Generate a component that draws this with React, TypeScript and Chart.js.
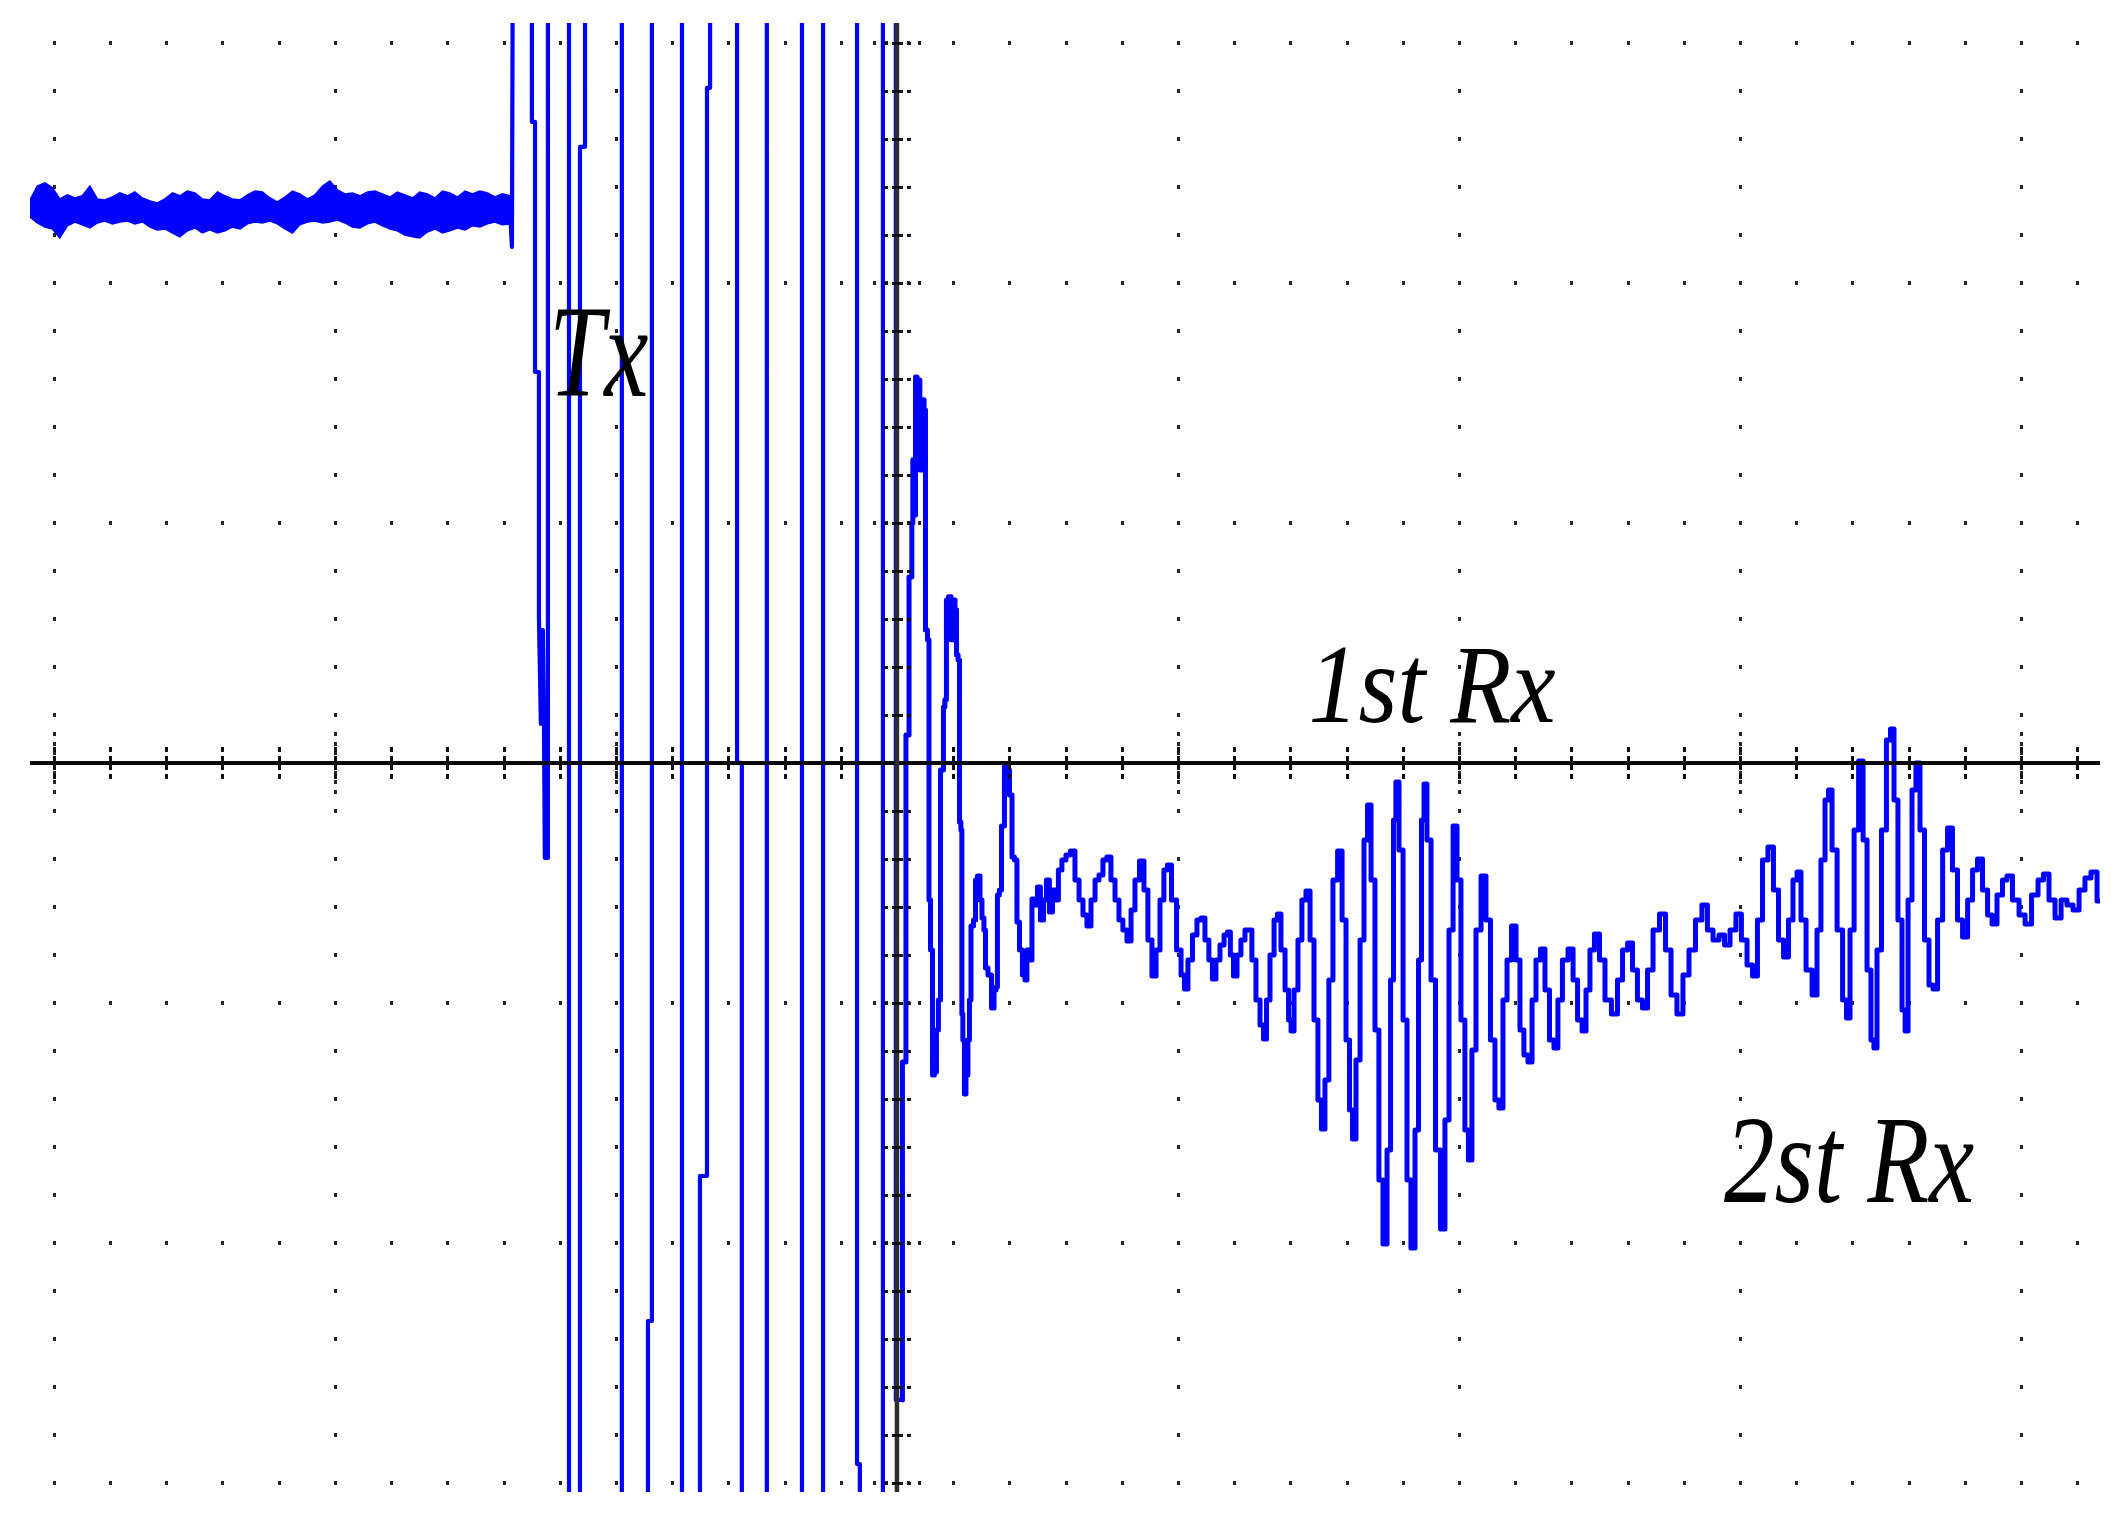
import React, { useEffect, useRef } from 'react';
import { Chart, registerables } from 'chart.js';

Chart.register(...registerables);

// Screen window, in scope divisions (x: time/div, y: volts/div)
const X_MIN = -3.085;
const X_MAX = 4.281;
const Y_MIN = -3.0375;
const Y_MAX = 3.083;

// Graticule
const xMajors = [-3, -2, -1, 0, 1, 2, 3, 4];
const yMajors = [-3, -2, -1, 0, 1, 2, 3];

// Pre-trigger noisy baseline (upper / lower envelope of the noise band)
const baseTime = [-3.085, -3.059, -3.032, -3.005, -2.979, -2.952, -2.925, -2.899, -2.872, -2.845,
  -2.819, -2.792, -2.765, -2.738, -2.712, -2.685, -2.658, -2.632, -2.605, -2.578,
  -2.552, -2.525, -2.498, -2.472, -2.445, -2.418, -2.391, -2.365, -2.338, -2.311,
  -2.285, -2.258, -2.231, -2.205, -2.178, -2.151, -2.125, -2.098, -2.071, -2.044,
  -2.018, -1.991, -1.964, -1.938, -1.911, -1.884, -1.858, -1.831, -1.804, -1.778,
  -1.751, -1.724, -1.698, -1.671, -1.644, -1.617, -1.591, -1.564, -1.537, -1.511,
  -1.484, -1.457, -1.431, -1.404, -1.377];
const baseUpper = [2.346, 2.404, 2.417, 2.396, 2.350, 2.367, 2.354, 2.363, 2.404, 2.350,
  2.346, 2.358, 2.375, 2.363, 2.379, 2.354, 2.342, 2.333, 2.350, 2.375,
  2.363, 2.383, 2.375, 2.350, 2.346, 2.379, 2.363, 2.350, 2.346, 2.367,
  2.383, 2.379, 2.354, 2.338, 2.358, 2.383, 2.371, 2.350, 2.367, 2.404,
  2.425, 2.3875, 2.371, 2.375, 2.363, 2.379, 2.383, 2.371, 2.358, 2.379,
  2.367, 2.354, 2.379, 2.371, 2.354, 2.383, 2.375, 2.358, 2.383, 2.371,
  2.383, 2.375, 2.358, 2.371, 2.363];
const baseLower = [2.275, 2.250, 2.233, 2.225, 2.1875, 2.238, 2.254, 2.242, 2.229, 2.250,
  2.258, 2.246, 2.254, 2.258, 2.246, 2.254, 2.233, 2.221, 2.225, 2.208,
  2.192, 2.217, 2.229, 2.208, 2.221, 2.208, 2.217, 2.233, 2.225, 2.246,
  2.254, 2.250, 2.258, 2.246, 2.225, 2.208, 2.242, 2.254, 2.258, 2.250,
  2.254, 2.2625, 2.250, 2.233, 2.229, 2.246, 2.254, 2.238, 2.225, 2.217,
  2.2, 2.192, 2.1875, 2.2125, 2.225, 2.208, 2.217, 2.229, 2.221, 2.238,
  2.233, 2.246, 2.254, 2.242, 2.246];

// Tx burst (clipped at the screen edges: +/-3.4)
const burstTime = [-1.377, -1.370, -1.367, -1.299, -1.299, -1.288, -1.288, -1.274, -1.274, -1.267,
  -1.260, -1.256, -1.253, -1.242, -1.242, -1.167, -1.167, -1.128, -1.128, -1.110,
  -1.110, -0.979, -0.979, -0.886, -0.886, -0.872, -0.872, -0.765, -0.765, -0.701,
  -0.701, -0.676, -0.676, -0.665, -0.665, -0.569, -0.569, -0.552, -0.552, -0.463,
  -0.463, -0.338, -0.338, -0.263, -0.263, -0.142, -0.142, -0.132, -0.132, -0.050,
  -0.050, -0.004, -0.004, 0.018];
const burstVolt = [2.304, 2.150, 3.4, 3.4, 2.671, 2.671, 1.629, 1.629, 0.608, 0.163,
  0.554, 0.163, -0.396, -0.396, 3.4, 3.4, -3.4, -3.4, 2.567, 2.567,
  3.4, 3.4, -3.4, -3.4, -2.325, -2.325, 3.4, 3.4, -3.4, -3.4,
  -1.721, -1.721, 2.813, 2.813, 3.4, 3.4, 0, 0, -3.4, -3.4,
  3.4, 3.4, -3.4, -3.4, 3.4, 3.4, -2.921, -2.921, -3.4, -3.4,
  3.4, 3.4, -2.654, -2.654];

// Ringing right after the burst
const ringTime = [0.018, 0.021, 0.032, 0.032, 0.043, 0.043, 0.053, 0.053, 0.060, 0.064,
  0.068, 0.075, 0.078, 0.085, 0.093, 0.100, 0.103, 0.114, 0.114, 0.125,
  0.128, 0.139, 0.142, 0.153, 0.157, 0.164, 0.167, 0.174, 0.178, 0.189,
  0.196, 0.203, 0.210, 0.214, 0.221, 0.224, 0.231, 0.231, 0.238, 0.242,
  0.249, 0.256, 0.260, 0.267, 0.278, 0.281, 0.292, 0.299, 0.306, 0.313,
  0.317, 0.331, 0.342, 0.349, 0.356, 0.359, 0.370, 0.374, 0.381, 0.384,
  0.395, 0.406, 0.413, 0.423, 0.431, 0.441, 0.452, 0.459, 0.466, 0.477,
  0.484];
const ringVolt = [-2.654, -1.246, -1.246, 0.117, 0.117, 0.775, 0.775, 1.0, 1.263, 1.033,
  1.608, 1.429, 1.596, 1.221, 1.513, 1.471, 0.554, 0.513, -0.571, -0.779,
  -1.3, -1.288, -1.113, -0.988, -0.029, -0.029, 0.233, 0.263, 0.679, 0.692,
  0.513, 0.679, 0.638, 0.45, 0.429, -0.246, -0.279, -1.046, -1.154, -1.379,
  -1.3, -1.154, -0.988, -0.679, -0.654, -0.488, -0.471, -0.571, -0.646, -0.696,
  -0.854, -0.883, -1.021, -0.946, -0.933, -0.55, -0.529, -0.263, -0.263, -0.008,
  -0.029, -0.133, -0.392, -0.404, -0.663, -0.779, -0.883, -0.904, -0.779, -0.821,
  -0.567];

// First received echo
const rx1Time = [0.495, 0.505, 0.516, 0.527, 0.537, 0.548, 0.559, 0.569, 0.580, 0.594,
  0.609, 0.626, 0.641, 0.655, 0.669, 0.683, 0.698, 0.712, 0.726, 0.740,
  0.754, 0.769, 0.783, 0.797, 0.811, 0.826, 0.840, 0.854, 0.872, 0.886,
  0.900, 0.915, 0.929, 0.943, 0.957, 0.968, 0.986, 1.004, 1.018, 1.028,
  1.043, 1.060, 1.075, 1.089, 1.103, 1.117, 1.128, 1.142, 1.157, 1.171,
  1.181, 1.192, 1.203, 1.217, 1.231, 1.246, 1.256, 1.270, 1.285, 1.299,
  1.310, 1.320, 1.335, 1.349, 1.359, 1.374, 1.388, 1.399, 1.406, 1.420,
  1.434, 1.448, 1.463, 1.477, 1.491, 1.505, 1.516, 1.530, 1.544, 1.559,
  1.577, 1.591, 1.605, 1.616, 1.626, 1.641, 1.655, 1.669, 1.680, 1.694,
  1.708, 1.722, 1.737, 1.751, 1.762, 1.772, 1.779, 1.794, 1.808, 1.822,
  1.836, 1.851, 1.861, 1.872, 1.879, 1.893, 1.908, 1.925, 1.943, 1.957,
  1.972, 1.986, 2.0, 2.014, 2.028, 2.039, 2.053, 2.068, 2.089, 2.103,
  2.121, 2.135, 2.149];
const rx1Volt = [-0.592, -0.517, -0.654, -0.571, -0.488, -0.621, -0.529, -0.571, -0.446, -0.404,
  -0.383, -0.367, -0.488, -0.571, -0.633, -0.679, -0.571, -0.488, -0.467, -0.404,
  -0.392, -0.488, -0.571, -0.654, -0.696, -0.742, -0.613, -0.488, -0.408, -0.529,
  -0.738, -0.888, -0.779, -0.571, -0.446, -0.425, -0.571, -0.779, -0.883, -0.942,
  -0.821, -0.717, -0.654, -0.646, -0.738, -0.821, -0.9, -0.821, -0.758, -0.717,
  -0.704, -0.8, -0.888, -0.8, -0.738, -0.696, -0.696, -0.821, -0.988, -1.092,
  -1.15, -0.988, -0.8, -0.654, -0.629, -0.779, -0.946, -1.071, -1.117, -0.946,
  -0.738, -0.571, -0.533, -0.738, -1.071, -1.404, -1.525, -1.321, -0.904, -0.488,
  -0.367, -0.654, -1.154, -1.446, -1.567, -1.238, -0.738, -0.321, -0.175, -0.488,
  -1.113, -1.738, -2.004, -1.613, -0.904, -0.238, -0.079, -0.363, -1.071, -1.738,
  -2.021, -1.529, -0.821, -0.238, -0.088, -0.321, -0.904, -1.613, -1.942, -1.488,
  -0.696, -0.263, -0.488, -1.071, -1.529, -1.654, -1.196, -0.696, -0.471, -0.654,
  -1.154, -1.404, -1.438];

// Second received echo and tail
const rx2Time = [2.164, 2.178, 2.196, 2.210, 2.224, 2.238, 2.253, 2.267, 2.281, 2.299,
  2.313, 2.331, 2.345, 2.359, 2.377, 2.399, 2.413, 2.431, 2.445, 2.459,
  2.473, 2.491, 2.509, 2.530, 2.555, 2.573, 2.591, 2.609, 2.626, 2.644,
  2.662, 2.680, 2.701, 2.726, 2.744, 2.765, 2.786, 2.808, 2.829, 2.854,
  2.875, 2.893, 2.915, 2.936, 2.954, 2.975, 2.996, 3.014, 3.036, 3.053,
  3.071, 3.089, 3.110, 3.128, 3.146, 3.164, 3.181, 3.196, 3.210, 3.224,
  3.246, 3.267, 3.281, 3.295, 3.310, 3.320, 3.335, 3.356, 3.374, 3.384,
  3.399, 3.413, 3.431, 3.445, 3.459, 3.473, 3.480, 3.495, 3.512, 3.530,
  3.541, 3.555, 3.569, 3.584, 3.591, 3.605, 3.619, 3.633, 3.648, 3.665,
  3.680, 3.694, 3.712, 3.730, 3.747, 3.765, 3.783, 3.801, 3.819, 3.836,
  3.854, 3.872, 3.890, 3.904, 3.925, 3.943, 3.957, 3.982, 4.004, 4.025,
  4.050, 4.071, 4.089, 4.110, 4.132, 4.153, 4.174, 4.196, 4.217, 4.238,
  4.260, 4.281];
const rx2Volt = [-0.988, -0.821, -0.679, -0.821, -1.113, -1.217, -1.246, -0.988, -0.821, -0.775,
  -0.946, -1.154, -1.188, -0.988, -0.821, -0.775, -0.904, -1.071, -1.117, -0.946,
  -0.779, -0.713, -0.821, -0.988, -1.046, -0.904, -0.779, -0.75, -0.863, -0.988,
  -1.021, -0.863, -0.696, -0.629, -0.779, -0.967, -1.046, -0.883, -0.779, -0.654,
  -0.592, -0.696, -0.738, -0.717, -0.758, -0.696, -0.629, -0.738, -0.842, -0.888,
  -0.654, -0.404, -0.35, -0.529, -0.738, -0.808, -0.654, -0.488, -0.454, -0.654,
  -0.863, -0.967, -0.696, -0.404, -0.154, -0.113, -0.363, -0.696, -0.988, -1.063,
  -0.696, -0.279, 0.008, -0.321, -0.863, -1.154, -1.188, -0.779, -0.279, 0.096,
  0.142, -0.154, -0.654, -1.029, -1.117, -0.571, -0.113, 0, -0.279, -0.738,
  -0.925, -0.942, -0.654, -0.363, -0.271, -0.446, -0.654, -0.725, -0.571, -0.446,
  -0.4, -0.529, -0.633, -0.671, -0.55, -0.488, -0.471, -0.571, -0.633, -0.671,
  -0.55, -0.488, -0.463, -0.571, -0.646, -0.571, -0.592, -0.613, -0.529, -0.479,
  -0.454, -0.575];

// Annotations (anchored in data units)
const labelTexts = ['Tx', '1st Rx', '2st Rx'];
const labelLeft = [-1.217, 1.477, 2.943];
const labelRight = [-0.886, 2.342, 3.833];
const labelBase = [1.529, 0.171, -1.829];
const labelSize = [132, 112, 124];

const BLUE = 'rgb(0,0,255)';

const toPts = (t: number[], v: number[]) => t.map((x, i) => ({ x, y: v[i] }));

const scopePlugin = {
  id: 'scopeGraticule',
  beforeDatasetsDraw(chart: any) {
    const { ctx, scales } = chart;
    const xs = scales.x;
    const ys = scales.y;
    ctx.save();
    ctx.fillStyle = '#262626';
    const dot = (px: number, py: number) => ctx.fillRect(Math.round(px) - 1, Math.round(py) - 2, 3, 4);
    for (const xm of xMajors) {
      if (xm === 0) continue;
      const px = xs.getPixelForValue(xm);
      for (let i = -15; i <= 15; i++) {
        if (i === 0) continue;
        dot(px, ys.getPixelForValue(i * 0.2));
      }
      for (const s of [-0.12, -0.08, -0.04, 0.04, 0.08, 0.12]) dot(px, ys.getPixelForValue(s));
    }
    for (const ym of yMajors) {
      if (ym === 0) continue;
      const py = ys.getPixelForValue(ym);
      for (let i = -15; i <= 21; i++) {
        if (i === 0) continue;
        dot(xs.getPixelForValue(i * 0.2), py);
      }
      for (const s of [-0.08, -0.04, 0.04, 0.08]) dot(xs.getPixelForValue(s), py);
    }
    ctx.restore();
  },
  afterDatasetsDraw(chart: any) {
    const { ctx, scales, chartArea } = chart;
    const xs = scales.x;
    const ys = scales.y;
    const x0 = xs.getPixelForValue(0);
    const y0 = ys.getPixelForValue(0);
    ctx.save();
    // horizontal centre axis
    ctx.strokeStyle = '#050505';
    ctx.lineWidth = 4;
    ctx.beginPath();
    ctx.moveTo(chartArea.left, y0);
    ctx.lineTo(chartArea.right, y0);
    ctx.stroke();
    // vertical centre axis
    ctx.strokeStyle = '#2e2e2e';
    ctx.lineWidth = 4.5;
    ctx.beginPath();
    ctx.moveTo(x0, chartArea.top);
    ctx.lineTo(x0, chartArea.bottom);
    ctx.stroke();
    // ticks on the horizontal axis
    ctx.fillStyle = '#111';
    for (let i = -15; i <= 21; i++) {
      if (i === 0) continue;
      const px = Math.round(xs.getPixelForValue(i * 0.2));
      ctx.fillRect(px - 1, y0 - 16, 3, 5);
      ctx.fillRect(px - 1, y0 - 7, 3, 14);
      ctx.fillRect(px - 1, y0 + 11, 3, 5);
    }
    // ticks on the vertical axis
    for (let i = -15; i <= 15; i++) {
      if (i === 0) continue;
      const py = Math.round(ys.getPixelForValue(i * 0.2));
      ctx.fillRect(x0 - 13, py - 1, 4, 3);
      ctx.fillRect(x0 - 5, py - 1, 11, 3);
      ctx.fillRect(x0 + 10, py - 1, 4, 3);
    }
    // labels
    ctx.fillStyle = '#000';
    ctx.textAlign = 'left';
    ctx.textBaseline = 'alphabetic';
    labelTexts.forEach((t, i) => {
      ctx.font = `italic ${labelSize[i]}px "Liberation Serif", "Times New Roman", serif`;
      const m = ctx.measureText(t);
      const ink = m.actualBoundingBoxLeft + m.actualBoundingBoxRight;
      const left = xs.getPixelForValue(labelLeft[i]);
      const right = xs.getPixelForValue(labelRight[i]);
      const sx = ink > 0 ? (right - left) / ink : 1;
      ctx.save();
      ctx.translate(left, ys.getPixelForValue(labelBase[i]));
      ctx.scale(sx, 1);
      ctx.fillText(t, m.actualBoundingBoxLeft, 0);
      ctx.restore();
    });
    ctx.restore();
  },
};

export default function App() {
  const ref = useRef<HTMLCanvasElement | null>(null);
  useEffect(() => {
    document.body.style.margin = '0';
    document.body.style.overflow = 'hidden';
    const echoT = [...ringTime, ...rx1Time, ...rx2Time];
    const echoV = [...ringVolt, ...rx1Volt, ...rx2Volt];
    const chart = new Chart(ref.current as HTMLCanvasElement, {
      type: 'line',
      data: {
        datasets: [
          {
            label: 'noise upper',
            data: toPts(baseTime, baseUpper),
            borderColor: BLUE,
            borderWidth: 1.5,
            pointRadius: 0,
            fill: false,
          },
          {
            label: 'noise lower',
            data: toPts(baseTime, baseLower),
            borderColor: BLUE,
            backgroundColor: BLUE,
            borderWidth: 1.5,
            pointRadius: 0,
            fill: '-1',
          },
          {
            label: 'Tx burst',
            data: toPts(burstTime, burstVolt),
            borderColor: BLUE,
            borderWidth: 4.2,
            borderJoinStyle: 'round',
            pointRadius: 0,
            fill: false,
          },
          {
            label: 'echoes',
            data: toPts(echoT, echoV),
            borderColor: BLUE,
            borderWidth: 5,
            borderJoinStyle: 'round',
            stepped: 'middle',
            pointRadius: 0,
            fill: false,
          },
        ],
      } as any,
      options: {
        animation: false,
        responsive: false,
        devicePixelRatio: 1,
        events: [],
        layout: { padding: { left: 30, right: 25, top: 23, bottom: 36 } },
        scales: {
          x: { type: 'linear', min: X_MIN, max: X_MAX, display: false },
          y: { type: 'linear', min: Y_MIN, max: Y_MAX, display: false },
        },
        plugins: {
          legend: { display: false },
          tooltip: { enabled: false },
        },
      } as any,
      plugins: [scopePlugin],
    });
    return () => chart.destroy();
  }, []);
  return (
    <div style={{ position: 'absolute', left: 0, top: 0, width: 2125, height: 1528, background: '#fff' }}>
      <canvas ref={ref} width={2125} height={1528} style={{ display: 'block', width: 2125, height: 1528 }} />
    </div>
  );
}
